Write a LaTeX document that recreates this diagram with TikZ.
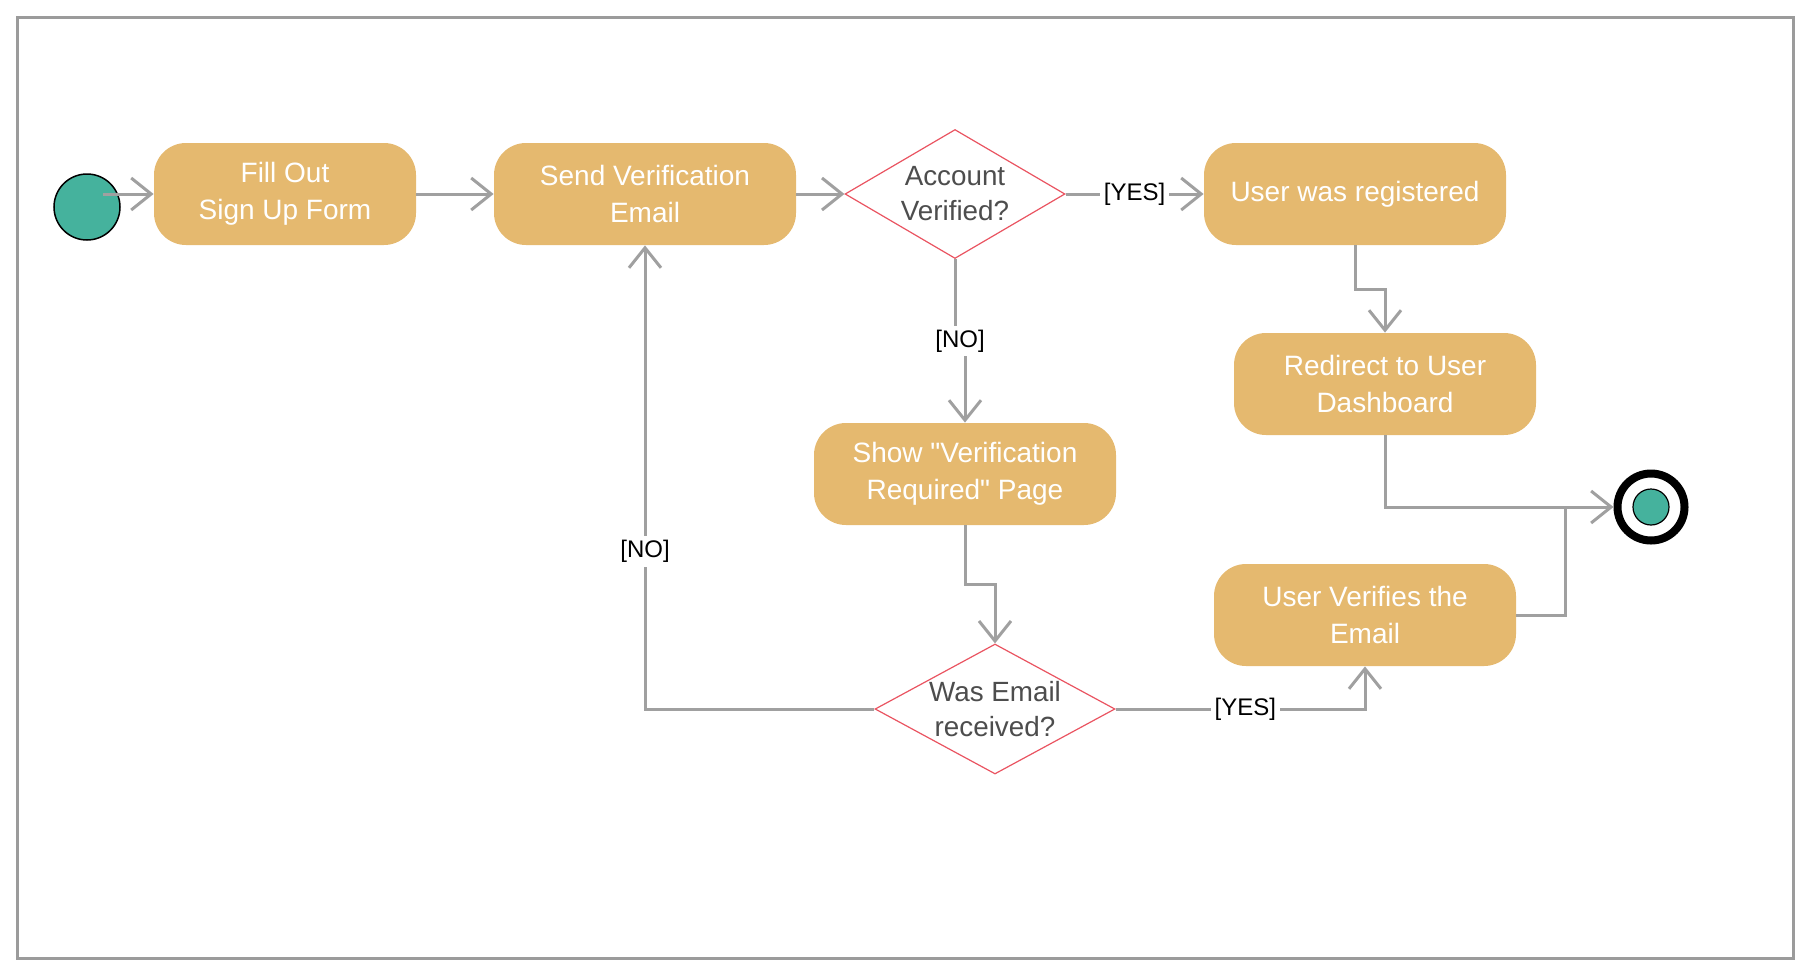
\documentclass[tikz,border=0pt]{standalone}
\usepackage{fontspec}
\setmainfont{Liberation Sans}
\usepackage{xcolor}
\usetikzlibrary{arrows.meta,positioning,shapes.geometric,calc}
\definecolor{boxfill}{RGB}{229,185,111}
\definecolor{dotfill}{RGB}{69,178,157}
\definecolor{decline}{RGB}{234,84,97}
\definecolor{flowgray}{RGB}{160,160,160}
\definecolor{framegray}{RGB}{155,155,155}
\definecolor{dectext}{RGB}{77,77,77}

\begin{document}
\begin{tikzpicture}[x=0.5pt, y=-0.5pt, >={Straight Barb[length=10pt,width=16pt]}, every node/.style={align=center},
  action/.style={rounded corners=16pt, fill=boxfill, text=white, minimum width=151pt, minimum height=51pt, font=\fontsize{14}{18.5}\selectfont},
  decision/.style={diamond, draw=decline, line width=0.6pt, fill=white, inner sep=0pt},
  dtext/.style={text=dectext, font=\fontsize{13.9}{17.5}\selectfont},
  guard/.style={fill=white, inner sep=2pt, font=\fontsize{12}{13}\selectfont},
  flow/.style={->, draw=flowgray, line width=1.5pt}]
  \useasboundingbox (0,0) rectangle (1810,970);
  \draw[framegray, line width=1.5pt] (17,17) rectangle (1793,958);
  \node[circle, draw=black, line width=0.75pt, fill=dotfill, minimum size=33pt, inner sep=0pt] (start) at (87,207) {};
  \node[action, minimum width=131pt] (fill) at (285,194) {Fill Out\\Sign Up Form};
  \node[action] (send) at (645,194) {Send Verification\\Email};
  \node[decision, minimum width=110pt, minimum height=64.5pt, label={[dtext]center:Account\\Verified?}] (acc) at (955,194) {};
  \node[action] (reg) at (1355,194) {User was registered};
  \node[action] (redir) at (1385,384) {Redirect to User\\Dashboard};
  \node[action] (show) at (965,474) {Show \textquotedbl Verification\\Required\textquotedbl{} Page};
  \node[decision, minimum width=120pt, minimum height=65pt, label={[dtext]center:Was Email\\received?}] (was) at (995,709) {};
  \node[action] (verif) at (1365,615) {User Verifies the\\Email};
  \node[circle, draw=black, line width=4pt, fill=white, minimum size=33.5pt, inner sep=0pt,
    path picture={\draw[black, line width=0.6pt, fill=dotfill] (path picture bounding box.center) circle (9pt);}] (end) at (1651,507) {};
  \coordinate (join) at (1565,507);
  \draw[flow] (start.center) ++(16,-13) -- (fill.west);
  \draw[flow] (fill) -- (send);
  \draw[flow] (send.east) -- (acc.west);
  \draw[flow] (acc.east) -- node[guard]{[YES]} (reg.west);
  \draw[flow] (acc.south) |- ($(acc.south)!.5!(show.north)$) node[guard]{[NO]} -| (show.north);
  \draw[flow] (reg.south) |- ($(reg.south)!.5!(redir.north)$) -| (redir.north);
  \draw[flow] (redir.south) |- (end.west);
  \draw[flow] (show.south) |- ($(show.south)!.5!(was.north)$) -| (was.north);
  \draw[flow] (was.east) -| node[guard, pos=.26]{[YES]} (verif.south);
  \draw[flow] (was.west) -| node[guard, pos=.67]{[NO]} (send.south);
  \draw[draw=flowgray, line width=1.5pt] (verif.east) -| (join);
\end{tikzpicture}
\end{document}
